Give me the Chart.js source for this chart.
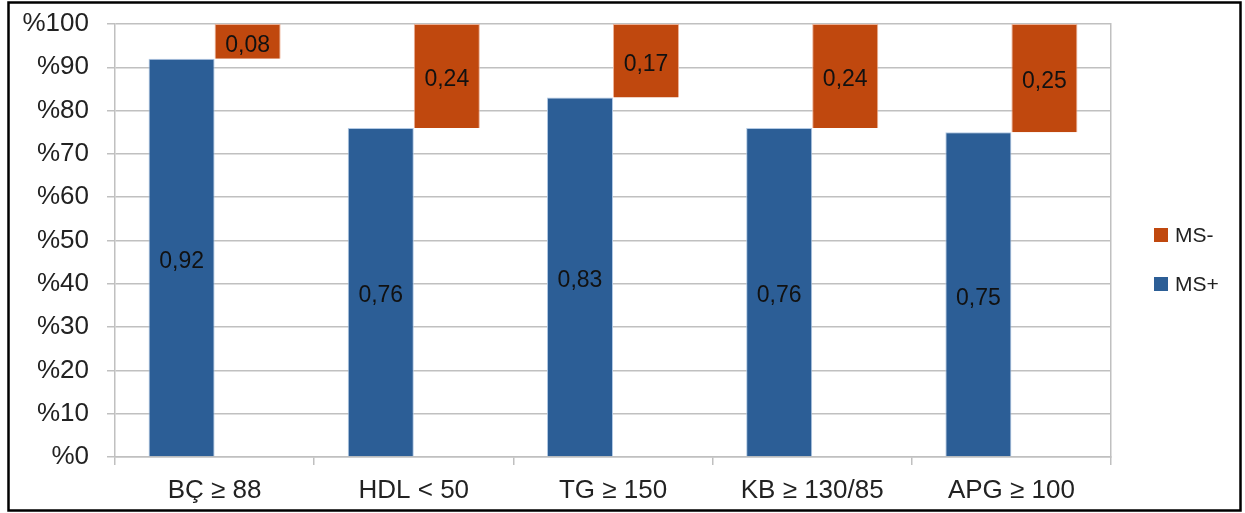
<!DOCTYPE html>
<html>
<head>
<meta charset="utf-8">
<script src="https://cdn.jsdelivr.net/npm/chart.js@4/dist/chart.umd.min.js"></script>
<style>
  html, body { margin: 0; padding: 0; background: #fff; }
  #wrap { position: relative; width: 1245px; height: 513px; }
</style>
</head>
<body>
<div id="wrap"><canvas id="c" width="1245" height="513"></canvas></div>
<script>
// Criteria shown along the x axis
const categories = ['BÇ ≥ 88', 'HDL < 50', 'TG ≥ 150', 'KB ≥ 130/85', 'APG ≥ 100'];
// Share of patients in each group (fractions of 1)
const msPlus  = [0.92, 0.76, 0.83, 0.76, 0.75];
const msMinus = [0.08, 0.24, 0.17, 0.24, 0.25];
// Y axis tick labels, bottom to top
const yTickLabels = ['%0', '%10', '%20', '%30', '%40', '%50', '%60', '%70', '%80', '%90', '%100'];

const BLUE = '#2C5E96';
const ORANGE = '#C0480E';
const GRID = '#C0C0C0';
const FONT = "'Liberation Sans', Arial, sans-serif";

const fmt = v => v.toFixed(2).replace('.', ',');

// White page with a black frame round the whole figure
const framePlugin = {
  id: 'frame',
  beforeDraw(chart) {
    const ctx = chart.ctx;
    ctx.save();
    ctx.fillStyle = '#fff';
    ctx.fillRect(0, 0, chart.width, chart.height);
    ctx.restore();
  },
  afterDraw(chart) {
    const ctx = chart.ctx;
    ctx.save();
    ctx.strokeStyle = '#000';
    ctx.lineWidth = 2.5;
    ctx.strokeRect(8.5, 2.5, 1232, 508);
    ctx.restore();
  }
};

// Value written in the middle of every bar
const valueLabels = {
  id: 'valueLabels',
  afterDatasetsDraw(chart) {
    const ctx = chart.ctx;
    ctx.save();
    ctx.font = '23px ' + FONT;
    ctx.fillStyle = '#111';
    ctx.textAlign = 'center';
    ctx.textBaseline = 'middle';
    chart.data.datasets.forEach((ds, di) => {
      const meta = chart.getDatasetMeta(di);
      meta.data.forEach((el, i) => {
        const y = (el.y + el.base) / 2;
        ctx.fillText(fmt(ds.shownValues[i]), el.x, y + 4);
      });
    });
    ctx.restore();
  }
};

// Legend on the right, last series first
const sideLegend = {
  id: 'sideLegend',
  afterDraw(chart) {
    const ctx = chart.ctx;
    const items = chart.data.datasets.slice().reverse();
    const x = 1154, y0 = 235, gap = 49, box = 14;
    ctx.save();
    ctx.font = '21px ' + FONT;
    ctx.textBaseline = 'middle';
    ctx.textAlign = 'left';
    items.forEach((ds, k) => {
      const cy = y0 + k * gap;
      ctx.fillStyle = ds.backgroundColor;
      ctx.fillRect(x, cy - box / 2, box, box);
      ctx.fillStyle = '#222';
      ctx.fillText(ds.label, x + box + 7, cy + 1);
    });
    ctx.restore();
  }
};

// keep the value axes from reserving extra room for their end labels
const noEndPadding = scale => { scale.paddingTop = 0; scale.paddingBottom = 0; };

new Chart(document.getElementById('c'), {
  type: 'bar',
  data: {
    labels: categories,
    datasets: [
      {
        label: 'MS+',
        data: msPlus,
        shownValues: msPlus,
        backgroundColor: BLUE,
        borderColor: 'rgba(170,195,225,0.9)',
        borderWidth: 1,
        categoryPercentage: 0.663,
        barPercentage: 1.0
      },
      {
        label: 'MS-',
        // sits on top of the MS+ share, up to the full 100 %
        data: msPlus.map((p, i) => [p, p + msMinus[i]]),
        shownValues: msMinus,
        backgroundColor: ORANGE,
        borderColor: 'rgba(235,170,140,0.9)',
        borderWidth: 1,
        categoryPercentage: 0.663,
        barPercentage: 1.0
      }
    ]
  },
  options: {
    responsive: false,
    animation: false,
    layout: { padding: { top: 24, right: 134, bottom: 0, left: 0 } },
    plugins: {
      legend: { display: false },
      tooltip: { enabled: false }
    },
    scales: {
      x: {
        grid: {
          offset: true,
          drawOnChartArea: false,
          drawTicks: true,
          tickLength: 8,
          color: GRID,
          lineWidth: 1.5
        },
        border: { color: GRID, width: 1.5 },
        ticks: {
          color: '#222',
          padding: 10,
          font: { family: FONT, size: 26 },
          maxRotation: 0
        },
        afterFit(scale) { scale.height = 56; scale.paddingLeft = 0; scale.paddingRight = 0; }
      },
      y: {
        min: 0,
        max: 1,
        ticks: {
          stepSize: 0.1,
          color: '#222',
          padding: 18,
          font: { family: FONT, size: 26 },
          callback: (v, i) => yTickLabels[i]
        },
        grid: { color: GRID, lineWidth: 1.5, tickLength: 8 },
        border: { color: GRID, width: 1.5 },
        afterFit(scale) { scale.width = 115; noEndPadding(scale); }
      },
      yRight: {
        position: 'right',
        min: 0,
        max: 1,
        ticks: { display: false },
        grid: { display: false },
        border: { display: true, color: GRID, width: 1.5 },
        afterFit(scale) { scale.width = 0; noEndPadding(scale); }
      }
    }
  },
  plugins: [framePlugin, valueLabels, sideLegend]
});
</script>
</body>
</html>
